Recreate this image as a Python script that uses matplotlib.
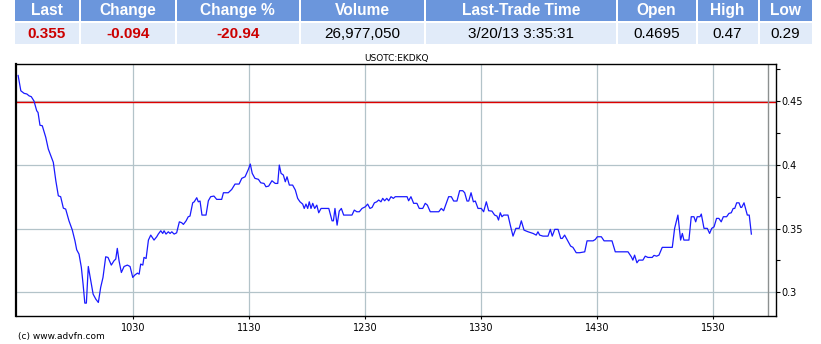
"""
Intraday price chart of USOTC:EKDKQ with quote table on top
"""

import matplotlib
matplotlib.use("Agg")
import matplotlib.pyplot as plt
from matplotlib.patches import Rectangle
from matplotlib.ticker import MultipleLocator

# Quote table
headers = ["Last", "Change", "Change %", "Volume", "Last-Trade Time", "Open", "High", "Low"]
values = ["0.355", "-0.094", "-20.94", "26,977,050", "3/20/13 3:35:31", "0.4695", "0.47", "0.29"]
red_values = [True, True, True, False, False, False, False, False]

# Price series: minutes after 9:30 and price
minutes = [
    0.4, 1.8, 3.5, 4.9, 6.1, 7.2, 8.6, 10.0, 10.7, 11.7, 12.9, 14.7, 16.0, 17.6, 18.6,
    19.9, 21.2, 22.4, 23.8, 25.0, 26.7, 28.4, 29.8, 30.7, 31.9, 33.1, 34.0, 34.9, 35.7,
    36.7, 38.0, 39.2, 40.6, 41.9, 43.1, 44.3, 45.7, 46.9, 48.6, 50.0, 50.9, 51.7, 52.6,
    53.8, 55.2, 56.9, 58.3, 59.7, 60.7, 62.1, 63.0, 63.8, 64.9, 65.5, 66.6, 67.8, 69.0,
    70.7, 72.1, 72.9, 74.2, 75.2, 75.9, 76.9, 78.1, 79.0, 79.9, 81.1, 82.4, 83.8, 85.0,
    85.9, 87.3, 88.4, 89.3, 90.7, 91.5, 92.8, 93.6, 94.5, 95.5, 97.6, 98.8, 100.0, 101.7,
    103.1, 105.7, 106.6, 109.1, 110.9, 112.6, 114.7, 116.1, 117.8, 119.5, 120.5, 121.5,
    122.9, 124.7, 125.9, 127.6, 128.6, 130.0, 131.7, 133.4, 134.7, 135.5, 136.4, 137.6,
    138.6, 139.5, 140.7, 142.4, 143.8, 145.0, 146.2, 147.6, 148.4, 149.3, 150.2, 151.0,
    151.9, 152.8, 153.8, 154.9, 155.9, 157.1, 161.1, 162.8, 163.5, 164.3, 165.4, 166.5,
    167.6, 168.8, 173.1, 174.3, 175.6, 176.9, 178.3, 180.0, 181.2, 182.4, 183.5, 184.7,
    185.9, 186.9, 188.1, 189.0, 190.0, 191.1, 192.1, 193.3, 194.5, 195.5, 201.6, 202.4,
    203.6, 205.0, 206.7, 207.9, 209.7, 211.0, 212.1, 213.6, 218.0, 219.3, 220.5, 221.9,
    223.1, 224.5, 225.7, 227.4, 228.8, 230.4, 231.4, 232.6, 233.5, 234.7, 235.9, 236.9,
    238.3, 240.0, 241.2, 242.6, 243.8, 245.5, 246.9, 248.1, 248.9, 249.8, 250.7, 251.6,
    253.8, 255.0, 256.4, 257.9, 259.6, 260.7, 262.1, 264.2, 266.8, 268.4, 269.3, 270.2,
    271.9, 274.5, 275.7, 276.7, 278.0, 279.7, 281.1, 281.9, 283.1, 284.5, 286.2, 287.4,
    289.1, 290.9, 293.5, 294.7, 297.8, 299.0, 300.0, 302.1, 303.5, 307.6, 309.3, 315.9,
    317.6, 318.4, 319.3, 320.5, 321.5, 323.6, 324.8, 326.2, 328.4, 329.3, 330.7, 331.9,
    333.6, 338.8, 340.0, 341.7, 343.1, 344.0, 344.8, 347.4, 348.6, 350.0, 350.9, 351.7,
    353.1, 353.8, 355.2, 356.9, 358.1, 359.2, 360.4, 361.7, 362.9, 364.1, 365.2, 366.9,
    368.1, 369.3, 370.3, 371.1, 372.1, 373.3, 374.2, 374.7, 375.9, 377.6, 378.6, 379.7,
]
prices = [
    0.470, 0.458, 0.456, 0.4555, 0.454, 0.4534, 0.450, 0.4424, 0.441, 0.431, 0.4306,
    0.4215, 0.4124, 0.4058, 0.4019, 0.3875, 0.3757, 0.375, 0.366, 0.3653, 0.3561, 0.349,
    0.3404, 0.3334, 0.330, 0.3196, 0.3065, 0.2916, 0.2916, 0.3203, 0.309, 0.2986, 0.2947,
    0.2921, 0.3039, 0.3117, 0.3279, 0.3274, 0.3214, 0.3248, 0.3261, 0.3345, 0.3248,
    0.3156, 0.3203, 0.3214, 0.3203, 0.3117, 0.3135, 0.3151, 0.3143, 0.3222, 0.3214,
    0.3274, 0.3266, 0.341, 0.3449, 0.341, 0.3436, 0.3457, 0.3483, 0.3462, 0.3483, 0.3457,
    0.3475, 0.3462, 0.3475, 0.3457, 0.3467, 0.3553, 0.3546, 0.3533, 0.3561, 0.3593,
    0.3598, 0.3702, 0.371, 0.3742, 0.371, 0.3716, 0.3606, 0.3606, 0.3718, 0.375, 0.3755,
    0.3729, 0.3729, 0.3781, 0.3781, 0.3807, 0.3849, 0.3849, 0.3894, 0.3906, 0.3964,
    0.4006, 0.3933, 0.3894, 0.3886, 0.3859, 0.3854, 0.3828, 0.3833, 0.3875, 0.3854,
    0.3854, 0.3998, 0.3933, 0.392, 0.3867, 0.3906, 0.3841, 0.3841, 0.3802, 0.3737, 0.371,
    0.3692, 0.3658, 0.3692, 0.3658, 0.371, 0.3658, 0.3698, 0.3658, 0.3684, 0.3624,
    0.3658, 0.3658, 0.3561, 0.3561, 0.3658, 0.3527, 0.3637, 0.3658, 0.3606, 0.3606,
    0.3645, 0.3632, 0.3632, 0.3658, 0.3671, 0.3692, 0.3658, 0.3666, 0.3702, 0.371,
    0.3724, 0.371, 0.3737, 0.3718, 0.3737, 0.3718, 0.375, 0.3737, 0.375, 0.375, 0.3718,
    0.375, 0.3698, 0.3698, 0.3658, 0.3658, 0.3698, 0.3684, 0.3632, 0.3632, 0.3658, 0.364,
    0.3698, 0.375, 0.375, 0.3716, 0.3716, 0.3797, 0.3797, 0.3781, 0.3716, 0.3716, 0.3781,
    0.371, 0.3716, 0.3658, 0.3658, 0.3632, 0.371, 0.364, 0.3637, 0.3606, 0.3598, 0.3567,
    0.3624, 0.3593, 0.3606, 0.3606, 0.3527, 0.3441, 0.3502, 0.3502, 0.3561, 0.3488,
    0.3475, 0.3462, 0.3449, 0.3475, 0.3449, 0.3441, 0.3441, 0.3494, 0.3441, 0.3494,
    0.3494, 0.3423, 0.3423, 0.3449, 0.341, 0.3363, 0.3353, 0.3311, 0.3311, 0.3318,
    0.3404, 0.3404, 0.3415, 0.3436, 0.3436, 0.3404, 0.3404, 0.3318, 0.3318, 0.3279,
    0.3253, 0.3292, 0.3232, 0.3253, 0.3253, 0.3284, 0.3274, 0.3274, 0.329, 0.3284,
    0.3292, 0.3353, 0.3353, 0.3502, 0.3606, 0.341, 0.3462, 0.341, 0.341, 0.3593, 0.3593,
    0.3553, 0.3593, 0.3593, 0.3614, 0.3502, 0.3502, 0.3462, 0.3502, 0.3514, 0.358, 0.358,
    0.3553, 0.3593, 0.3593, 0.3619, 0.3624, 0.3658, 0.3658, 0.3702, 0.3702, 0.3666,
    0.3666, 0.3702, 0.3606, 0.3606, 0.3457,
]
prev_close = 0.449
tick_minutes = [60, 120, 180, 240, 300, 360]
tick_labels = ["1030", "1130", "1230", "1330", "1430", "1530"]
close_marker = 388.5

fig = plt.figure(figsize=(8.21, 3.44), dpi=100)

# --- quote table drawn in pixel coordinates ---
tab = fig.add_axes([0, 0, 1, 1])
tab.set_xlim(0, 821)
tab.set_ylim(344, 0)
tab.axis("off")
col_edges = [15, 80, 176, 299.5, 425, 616.5, 696.5, 758.5, 812.5]
for i, (h, v) in enumerate(zip(headers, values)):
    x0 = col_edges[i] + (1 if i > 0 else 0)
    x1 = col_edges[i + 1] - 1
    tab.add_patch(Rectangle((x0, 0), x1 - x0, 20.5, color="#6b96dc", lw=0))
    tab.add_patch(Rectangle((x0, 22.5), x1 - x0, 21.5, color="#e1ebf9", lw=0))
    cx = (x0 + x1) / 2
    tab.text(cx, 10.5, h, color="white", fontsize=11.2, fontweight="bold",
             family="Liberation Sans", ha="center", va="center")
    tab.text(cx, 33.5, v, color="#cc0000" if red_values[i] else "black",
             fontsize=11, fontweight="bold" if red_values[i] else "normal",
             family="Liberation Sans", ha="center", va="center")

fig.text(18 / 821, 1 - 337 / 344, "(c) www.advfn.com", fontsize=6.5,
         family="DejaVu Sans", va="center", ha="left")

# --- price chart ---
ax = fig.add_axes([16 / 821, 28 / 344, 760.3 / 821, 252 / 344])
ax.plot(minutes, prices, color="#1a1aff", lw=0.9, zorder=3)
ax.axhline(prev_close, color="#dd0000", lw=1, zorder=2)
ax.axvline(close_marker, color="#8c9090", lw=1, zorder=2)

ax.set_xlim(-0.7, 392.6)
ax.set_ylim(0.2815, 0.479)
ax.set_xticks(tick_minutes)
ax.set_xticklabels(tick_labels)
ax.yaxis.set_major_locator(MultipleLocator(0.05))
ax.yaxis.set_minor_locator(MultipleLocator(0.025))
ax.yaxis.set_major_formatter(plt.FuncFormatter(lambda v, p: f"{v:g}"))
ax.yaxis.tick_right()
ax.tick_params(axis="y", which="both", direction="out", length=3, width=0.8,
               labelsize=7, pad=1)
ax.tick_params(axis="x", direction="out", length=2, width=0.8, labelsize=7, pad=3)
ax.grid(True, which="major", color="#b3c3c9", lw=0.9)
for side in ["top", "bottom", "right"]:
    ax.spines[side].set_linewidth(1)
ax.spines["left"].set_linewidth(1.6)
ax.set_title("USOTC:EKDKQ", fontsize=6.5, pad=2)

fig.savefig("out.png", dpi=100)
plt.close(fig)
